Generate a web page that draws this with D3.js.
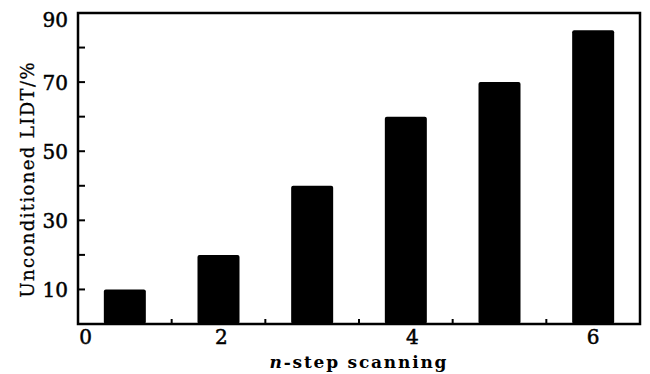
<!DOCTYPE html>
<html>
<head>
<meta charset="utf-8">
<script src="https://cdn.jsdelivr.net/npm/d3@7"></script>
<style>
  body { margin: 0; background: #fff; }
  svg { display: block; }
  text { font-family: "DejaVu Serif", "Liberation Serif", serif; fill: #000; }
</style>
</head>
<body>
<div id="chart"></div>
<script>
// data
const steps = [1, 2, 3, 4, 5, 6];
const lidt = [10, 20, 40, 60, 70, 85];
const yLabelTicks = [10, 30, 50, 70, 90];
const yMinorTicks = [10, 20, 30, 40, 50, 60, 70, 80];
const xLabelTicks = [0.58, 2.03, 4.07, 6.0];
const xLabelText = ['0', '2', '4', '6'];
const xMinorTicks = [1.5, 2.5, 3.5, 4.5, 5.5];

const width = 650, height = 374;
const margin = { top: 13, right: 10, bottom: 50, left: 78 };

const svg = d3.select('#chart')
  .append('svg')
  .attr('width', width)
  .attr('height', height);

const x = d3.scaleLinear()
  .domain([0.5, 6.5])
  .range([margin.left, width - margin.right]);

const y = d3.scaleLinear()
  .domain([0, 90])
  .range([height - margin.bottom, margin.top]);

// bars
const barW = 42;
svg.selectAll('.bar')
  .data(steps)
  .enter()
  .append('rect')
  .attr('class', 'bar')
  .attr('x', (d) => x(d) - barW / 2)
  .attr('y', (d, i) => y(lidt[i]))
  .attr('width', barW)
  .attr('height', (d, i) => y(0) - y(lidt[i]))
  .attr('rx', 2)
  .attr('fill', '#000');

// inner ticks
svg.selectAll('.ytick')
  .data(yMinorTicks)
  .enter()
  .append('line')
  .attr('x1', x(0.5))
  .attr('x2', x(0.5) + 7)
  .attr('y1', (d) => y(d))
  .attr('y2', (d) => y(d))
  .attr('stroke', '#000')
  .attr('stroke-width', 2);

svg.selectAll('.xtick')
  .data(xMinorTicks)
  .enter()
  .append('line')
  .attr('x1', (d) => x(d))
  .attr('x2', (d) => x(d))
  .attr('y1', y(0))
  .attr('y2', y(0) - 5)
  .attr('stroke', '#000')
  .attr('stroke-width', 2);

// frame
svg.append('rect')
  .attr('x', x(0.5))
  .attr('y', y(90))
  .attr('width', x(6.5) - x(0.5))
  .attr('height', y(0) - y(90))
  .attr('fill', 'none')
  .attr('stroke', '#000')
  .attr('stroke-width', 2.5);

// tick labels
svg.selectAll('.ylab')
  .data(yLabelTicks)
  .enter()
  .append('text')
  .attr('x', 68)
  .attr('y', (d) => y(d) + (d === 90 ? 14 : 8))
  .attr('text-anchor', 'end')
  .attr('font-size', 20)
  .attr('stroke', '#000')
  .attr('stroke-width', 0.5)
  .text((d) => d);

svg.selectAll('.xlab')
  .data(xLabelTicks)
  .enter()
  .append('text')
  .attr('x', (d) => x(d))
  .attr('y', 344)
  .attr('text-anchor', 'middle')
  .attr('font-size', 20)
  .attr('stroke', '#000')
  .attr('stroke-width', 0.5)
  .text((d, i) => xLabelText[i]);

// axis titles
svg.append('text')
  .attr('transform', 'translate(34,180) rotate(-90)')
  .attr('text-anchor', 'middle')
  .attr('font-size', 18)
  .attr('stroke', '#000')
  .attr('stroke-width', 0.3)
  .attr('textLength', 235)
  .attr('lengthAdjust', 'spacing')
  .text('Unconditioned LIDT/%');

const xt = svg.append('text')
  .attr('x', 358)
  .attr('y', 368)
  .attr('text-anchor', 'middle')
  .attr('font-size', 17)
  .attr('font-weight', 'bold')
  .attr('textLength', 177)
  .attr('lengthAdjust', 'spacing');
xt.append('tspan').attr('font-style', 'italic').text('n');
xt.append('tspan').text('-step scanning');
</script>
</body>
</html>
